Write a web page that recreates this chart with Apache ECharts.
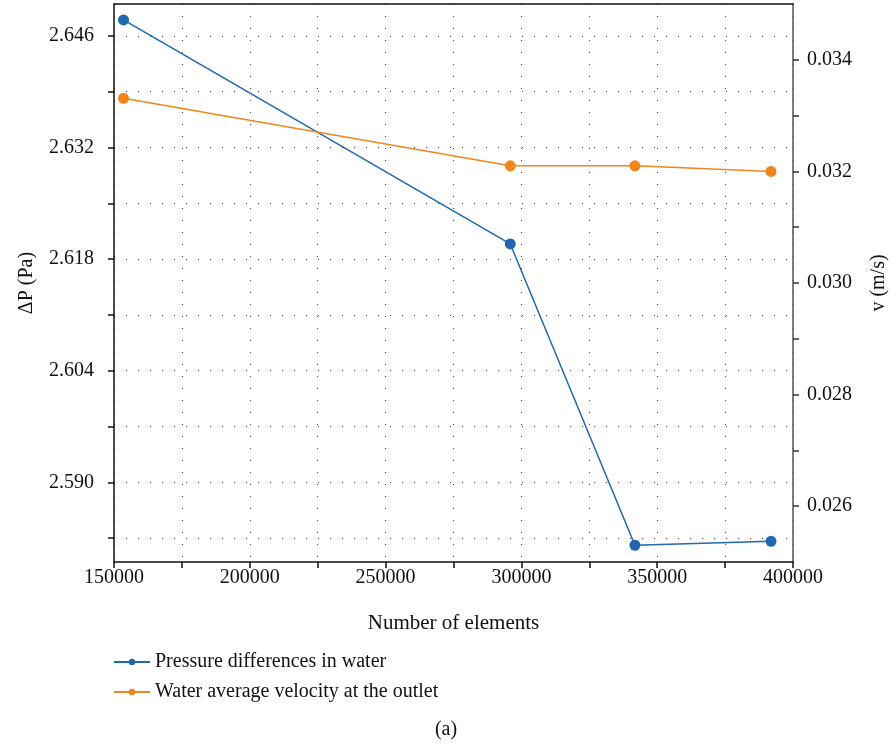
<!DOCTYPE html>
<html>
<head>
<meta charset="utf-8">
<script src="https://cdn.jsdelivr.net/npm/echarts@6/dist/echarts.min.js"></script>
<style>html,body{margin:0;padding:0;background:#fff}#c{width:892px;height:746px}</style>
</head>
<body>
<div id="c"></div>
<script>
var elements = [153500, 295900, 341800, 391900];
var pressure = [2.6480, 2.6199, 2.5821, 2.5826];
var velocity = [0.03331, 0.03210, 0.03210, 0.03200];
var leftTicks = [2.583, 2.590, 2.597, 2.604, 2.611, 2.618, 2.625, 2.632, 2.639, 2.646];
var leftLabels = [2.590, 2.604, 2.618, 2.632, 2.646];
var rightTicks = [0.026, 0.027, 0.028, 0.029, 0.030, 0.031, 0.032, 0.033, 0.034];
var rightLabels = [0.026, 0.028, 0.030, 0.032, 0.034];
var xLabels = [150000, 200000, 250000, 300000, 350000, 400000];
var seriesNames = ['Pressure differences in water', 'Water average velocity at the outlet'];
var caption = '(a)';

var FONT = '"Liberation Serif", "DejaVu Serif", serif';
var chart = echarts.init(document.getElementById('c'), null, {renderer: 'canvas'});
var gridDot = {type: [1, 11], color: '#444', width: 1};
chart.setOption({
  animation: false,
  textStyle: {fontFamily: FONT},
  grid: {left: 114, right: 99, top: 4, bottom: 184, containLabel: false, outerBoundsMode: 'none'},
  xAxis: [{
    type: 'value', min: 150000, max: 400000, interval: 25000,
    name: 'Number of elements', nameLocation: 'middle', nameGap: 51,
    nameTextStyle: {fontFamily: FONT, fontSize: 21, color: '#111'},
    axisLine: {lineStyle: {color: '#111', width: 1.5}},
    axisTick: {show: true, inside: false, length: 6, lineStyle: {color: '#111', width: 1.5}},
    axisLabel: {customValues: xLabels, formatter: function (v) { return String(v); },
      fontFamily: FONT, fontSize: 20, color: '#111', margin: 6},
    splitLine: {show: true, lineStyle: gridDot}
  }, {
    type: 'value', position: 'top', min: 150000, max: 400000,
    axisLine: {show: true, lineStyle: {color: '#111', width: 1.5}},
    axisTick: {show: false}, axisLabel: {show: false}, splitLine: {show: false}
  }],
  yAxis: [{
    type: 'value', min: 2.58, max: 2.65, position: 'left',
    name: '\u0394P (Pa)', nameLocation: 'middle', nameGap: 77, nameRotate: 90,
    nameTextStyle: {fontFamily: FONT, fontSize: 20, color: '#111'},
    axisLine: {show: true, lineStyle: {color: '#111', width: 1.5}},
    axisTick: {show: true, customValues: leftTicks, length: 6, lineStyle: {color: '#111', width: 1.5}},
    axisLabel: {customValues: leftLabels, formatter: function (v) { return v.toFixed(3); },
      fontFamily: FONT, fontSize: 20, color: '#111', margin: 20},
    splitLine: {show: true, lineStyle: gridDot}
  }, {
    type: 'value', min: 0.025, max: 0.035, interval: 0.001, position: 'right',
    name: 'v (m/s)', nameLocation: 'middle', nameGap: 76, nameRotate: 90,
    nameTextStyle: {fontFamily: FONT, fontSize: 20, color: '#111'},
    axisLine: {show: true, lineStyle: {color: '#555', width: 1.5}},
    axisTick: {show: true, customValues: rightTicks, length: 6, lineStyle: {color: '#333', width: 1.5}},
    axisLabel: {customValues: rightLabels, formatter: function (v) { return v.toFixed(3); },
      fontFamily: FONT, fontSize: 20, color: '#111', margin: 14},
    splitLine: {show: false}
  }],
  legend: {
    orient: 'vertical', left: 108, top: 647, itemWidth: 36, itemHeight: 8, itemGap: 10,
    textStyle: {fontFamily: FONT, fontSize: 20, color: '#111'},
    data: seriesNames
  },
  graphic: [{
    type: 'text', left: 'center', top: 720,
    style: {text: caption, font: '20px ' + FONT, fill: '#111'}
  }],
  series: [{
    name: seriesNames[0], type: 'line', xAxisIndex: 0, yAxisIndex: 0,
    data: elements.map(function (x, i) { return [x, pressure[i]]; }),
    symbol: 'circle', symbolSize: 11, color: '#2068ae',
    lineStyle: {width: 1.5, color: '#2068ae'}, itemStyle: {color: '#2068ae'}
  }, {
    name: seriesNames[1], type: 'line', xAxisIndex: 0, yAxisIndex: 1,
    data: elements.map(function (x, i) { return [x, velocity[i]]; }),
    symbol: 'circle', symbolSize: 11, color: '#f0861c',
    lineStyle: {width: 1.5, color: '#f0861c'}, itemStyle: {color: '#f0861c'}
  }]
});
</script>
</body>
</html>
